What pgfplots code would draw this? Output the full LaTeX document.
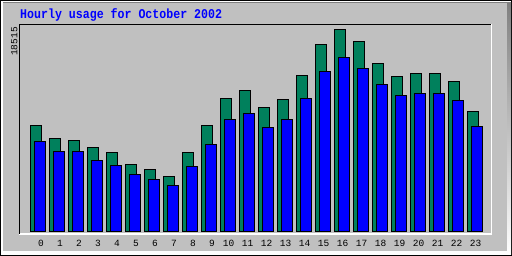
\documentclass[border=0pt]{standalone}
\usepackage{pgfplots}
\pgfplotsset{compat=1.18}
\usepackage{pgfplotstable}
\usepackage{graphicx}
\usepackage{fontspec}
\newfontfamily\mono{Liberation Mono}
\definecolor{bg}{HTML}{C0C0C0}
\definecolor{hits}{HTML}{00805C}
\definecolor{files}{HTML}{0000FF}
\definecolor{shade}{HTML}{808080}

\pgfplotstableread{
h hits files
0 9759 8300
1 8483 7297
2 8391 7297
3 7662 6567
4 7206 6111
5 6202 5290
6 5746 4743
7 5017 4196
8 7206 5929
9 9759 8026
10 12131 10216
11 12861 10763
12 11401 9577
13 12040 10216
14 14229 12131
15 17147 14594
16 18515 15871
17 17421 14958
18 15414 13408
19 14138 12405
20 14502 12678
21 14502 12587
22 13682 11949
23 11036 9668
}\data

\begin{document}
\begin{tikzpicture}[x=1pt,y=1pt]
\useasboundingbox (0,0) rectangle (512,256);
\fill[black] (0,0) rectangle (512,256);
\fill[white] (1,1) rectangle (511,255);
\fill[shade] (3,1) rectangle (511,253);
\fill[bg] (3,5) rectangle (507,253);
% inner frame
\draw[white, line width=1.5pt] (19,22) -- (491.5,22) -- (491.5,232);
\draw[black, line width=1.5pt] (19.5,22) -- (19.5,231.5) -- (491,231.5);
% title
\node[anchor=base west, inner sep=0, text=files, font=\mono\bfseries\fontsize{11.6}{12}\selectfont] at (20,237) {\scalebox{1}[1.15]{Hourly usage for October 2002}};
% y max label
\node[rotate=90, anchor=base, inner sep=0, font=\mono\fontsize{9.5}{10}\selectfont] at (17.3,214.5) {18515};
\begin{axis}[at={(20pt,22pt)}, anchor=south west, scale only axis,
  width=471pt, height=209pt,
  xmin=-1.105, xmax=23.684, ymin=-182, ymax=18881,
  axis line style={draw=none}, major tick length=0pt,
  ytick=\empty,
  xtick={0,1,2,3,4,5,6,7,8,9,10,11,12,13,14,15,16,17,18,19,20,21,22,23},
  xticklabels={0,1,2,3,4,5,6,7,8,9,10\kern5pt,11\kern5pt,12\kern5pt,13\kern5pt,14\kern5pt,15\kern5pt,16\kern5pt,17\kern5pt,18\kern5pt,19\kern5pt,20\kern5pt,21\kern5pt,22\kern5pt,23\kern5pt},
  xticklabel style={anchor=base, yshift=-12.7pt, inner sep=0pt, font=\mono\fontsize{9.5}{10}\selectfont},
  clip=false]
\addplot[ybar, bar width=11pt, bar shift=-5pt, fill=hits, draw=black, line width=1pt] table[x=h,y=hits]{\data};
\addplot[ybar, bar width=11pt, bar shift=-1pt, fill=files, draw=black, line width=1pt] table[x=h,y=files]{\data};
\end{axis}
\end{tikzpicture}
\end{document}
